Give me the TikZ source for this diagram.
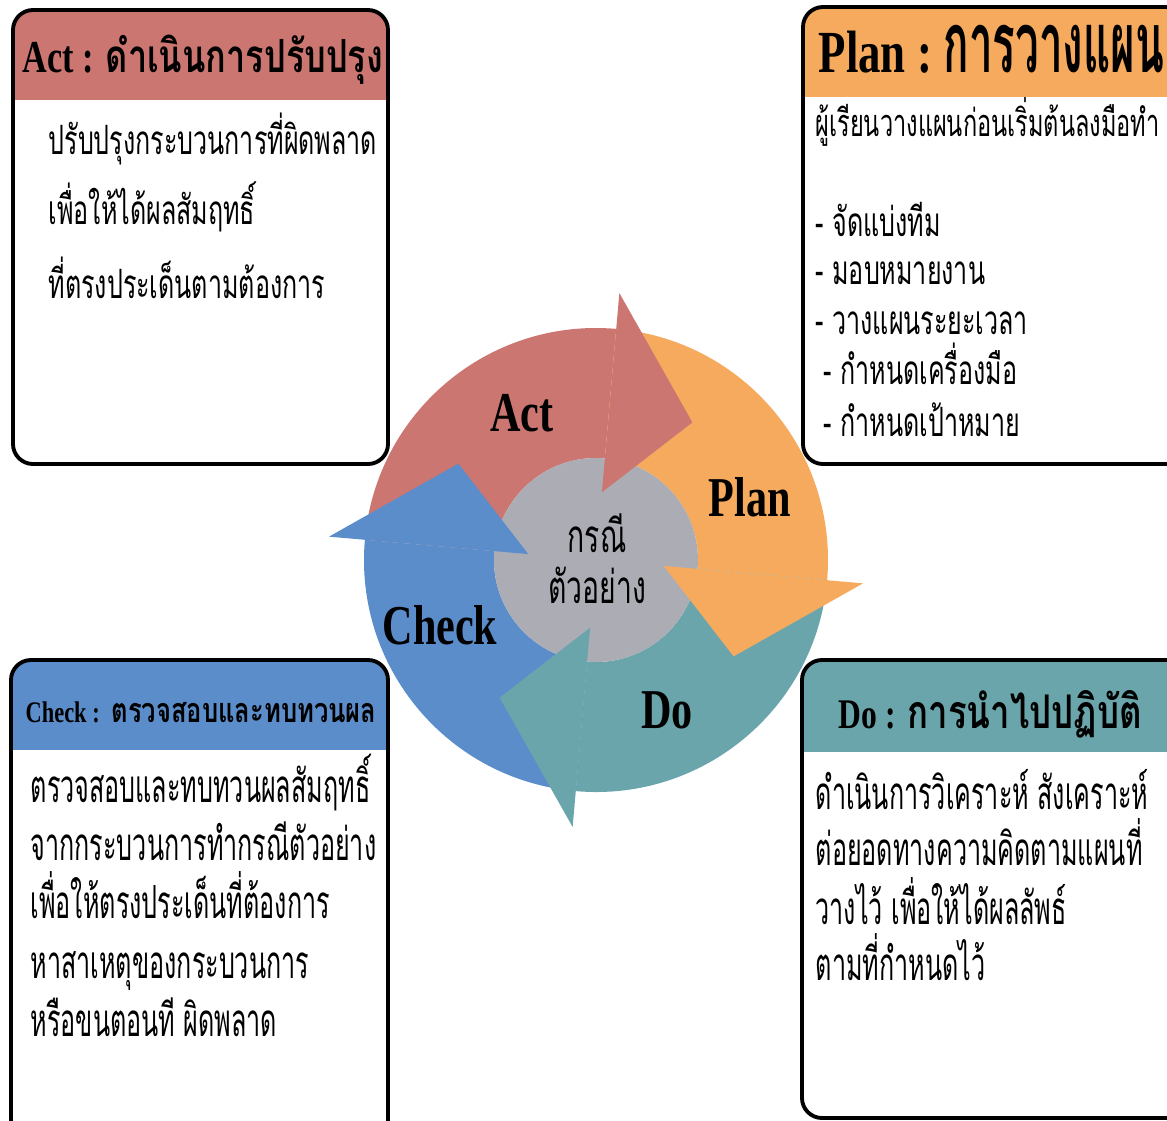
\documentclass[tikz,border=0pt]{standalone}
\usepackage{fontspec}
\setmainfont{Liberation Serif}
\newfontfamily\latincond[FakeStretch=0.75]{Liberation Serif}
\newfontfamily\thaibody[Script=Thai,FakeStretch=0.62]{Loma}
\newfontfamily\thainarrow[Script=Thai,FakeStretch=0.55]{Loma}
\newfontfamily\thaiwide[Script=Thai,FakeStretch=0.75]{Loma}
\newfontfamily\thaitall[Script=Thai,FakeStretch=0.5]{Loma}
\definecolor{actred}{HTML}{CB7671}
\definecolor{planorange}{HTML}{F6AA5E}
\definecolor{doteal}{HTML}{6BA5AC}
\definecolor{checkblue}{HTML}{5B8DCB}
\definecolor{coregray}{HTML}{ACACB4}

\begin{document}
\begin{tikzpicture}[
    x=0.1mm, y=0.1mm,
    frame/.style={line width=1.1pt, rounded corners=2mm},
    headtext/.style={anchor=base west, inner sep=0pt},
    bodytext/.style={anchor=base west, inner sep=0pt, font=\thaibody\fontsize{11.5}{14}\selectfont},
    bigbody/.style={anchor=base west, inner sep=0pt, font=\thainarrow\fontsize{13}{16}\selectfont},
    ringlabel/.style={inner sep=0pt, font=\latincond\bfseries\fontsize{16}{18}\selectfont},
    coretext/.style={inner sep=0pt, font=\thaibody\fontsize{13}{15}\selectfont}
]
    \useasboundingbox (0,0) rectangle (1167,-1121);
    \clip (0,0) rectangle (1167,-1121);

    % Act box
    \begin{scope}
        \clip[rounded corners=2mm] (13,-10) rectangle (388,-464);
        \fill[actred] (13,-10) rectangle (388,-100);
    \end{scope}
    \draw[frame] (13,-10) rectangle (388,-464);
    \node[headtext] (acthead) at (22,-72) {{\latincond\bfseries\fontsize{13}{15}\selectfont Act :} {\thaiwide\bfseries\fontsize{13}{15}\selectfont ดำเนินการปรับปรุง}};
    \node[bodytext] (act1) at (48,-154) {ปรับปรุงกระบวนการที่ผิดพลาด};
    \node[bodytext] (act2) at (48,-224) {เพื่อให้ได้ผลสัมฤทธิ์};
    \node[bodytext] (act3) at (48,-298) {ที่ตรงประเด็นตามต้องการ};

    % Plan box
    \begin{scope}
        \clip[rounded corners=2mm] (803,-7) rectangle (1190,-464);
        \fill[planorange] (803,-7) rectangle (1190,-97);
    \end{scope}
    \draw[frame] (803,-7) rectangle (1190,-464);
    \node[headtext] (planhead) at (818,-72) {{\latincond\bfseries\fontsize{17}{20}\selectfont Plan :} {\thaitall\bfseries\fontsize{24}{26}\selectfont การวางแผน}};
    \node[bodytext, font=\thaibody\fontsize{10.8}{13}\selectfont] (plan0) at (815,-136) {ผู้เรียนวางแผนก่อนเริ่มต้นลงมือทำ};
    \node[bodytext] (plan1) at (815,-236) {- จัดแบ่งทีม};
    \node[bodytext] (plan2) at (815,-284) {- มอบหมายงาน};
    \node[bodytext] (plan3) at (815,-334) {- วางแผนระยะเวลา};
    \node[bodytext] (plan4) at (823,-384) {- กำหนดเครื่องมือ};
    \node[bodytext] (plan5) at (823,-436) {- กำหนดเป้าหมาย};

    % Check box
    \begin{scope}
        \clip[rounded corners=2mm] (11,-660) rectangle (388,-1140);
        \fill[checkblue] (11,-660) rectangle (388,-750);
    \end{scope}
    \draw[frame] (11,-660) rectangle (388,-1140);
    \node[headtext] (checkhead) at (25,-722) {{\latincond\bfseries\fontsize{8.5}{11}\selectfont Check :} {\thaiwide\bfseries\fontsize{9.7}{12}\selectfont ตรวจสอบและทบทวนผล}};
    \node[bigbody] (check1) at (30,-802) {ตรวจสอบและทบทวนผลสัมฤทธิ์};
    \node[bigbody] (check2) at (30,-860) {จากกระบวนการทำกรณีตัวอย่าง};
    \node[bigbody] (check3) at (30,-918) {เพื่อให้ตรงประเด็นที่ต้องการ};
    \node[bigbody] (check4) at (30,-978) {หาสาเหตุของกระบวนการ};
    \node[bigbody] (check5) at (30,-1036) {หรือขนตอนที ผิดพลาด};

    % Do box
    \begin{scope}
        \clip[rounded corners=2mm] (802,-660) rectangle (1190,-1118);
        \fill[doteal] (802,-660) rectangle (1190,-752);
    \end{scope}
    \draw[frame] (802,-660) rectangle (1190,-1118);
    \node[headtext] (dohead) at (838,-728) {{\latincond\bfseries\fontsize{12}{14}\selectfont Do :} {\thaiwide\bfseries\fontsize{13.2}{16}\selectfont การนำไปปฏิบัติ}};
    \node[bigbody] (do1) at (815,-809) {ดำเนินการวิเคราะห์ สังเคราะห์};
    \node[bigbody] (do2) at (815,-865) {ต่อยอดทางความคิดตามแผนที่};
    \node[bigbody] (do3) at (815,-924) {วางไว้ เพื่อให้ได้ผลลัพธ์};
    \node[bigbody] (do4) at (815,-980) {ตามที่กำหนดไว้};

    % Cycle
    \coordinate (hub) at (596,-560);
    \begin{scope}[shift={(hub)}]
        \fill[actred] (175:232) arc[start angle=175, end angle=85, radius=232] -- (85:102) arc[start angle=85, end angle=175, radius=102] -- cycle;
        \fill[planorange] (85:232) arc[start angle=85, end angle=-5, radius=232] -- (-5:102) arc[start angle=-5, end angle=85, radius=102] -- cycle;
        \fill[doteal] (-5:232) arc[start angle=-5, end angle=-95, radius=232] -- (-95:102) arc[start angle=-95, end angle=-5, radius=102] -- cycle;
        \fill[checkblue] (-95:232) arc[start angle=-95, end angle=-185, radius=232] -- (-185:102) arc[start angle=-185, end angle=-95, radius=102] -- cycle;
        \fill[coregray] (0,0) circle[radius=102];
        % Heads
        \fill[actred] (85:268) -- (55:168) -- (85:68) -- cycle;
        \fill[planorange] (-5:268) -- (-35:168) -- (-5:68) -- cycle;
        \fill[doteal] (-95:268) -- (-125:168) -- (-95:68) -- cycle;
        \fill[checkblue] (175:268) -- (145:168) -- (175:68) -- cycle;
    \end{scope}
    \node[ringlabel] (actlabel) at (522,-413) {Act};
    \node[ringlabel] (planlabel) at (750,-497) {Plan};
    \node[ringlabel] (checklabel) at (440,-625) {Check};
    \node[ringlabel] (dolabel) at (667,-710) {Do};
    \node[coretext] (core1) at (597,-533) {กรณี};
    \node[coretext] (core2) at (597,-585) {ตัวอย่าง};
\end{tikzpicture}
\end{document}
